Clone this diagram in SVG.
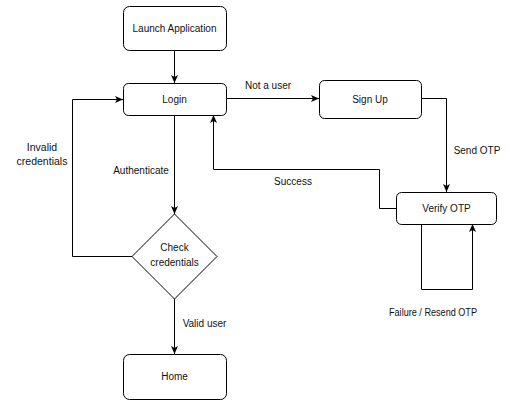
<svg xmlns="http://www.w3.org/2000/svg" width="510" height="412" viewBox="0 0 510 412">
<defs>
<style>
.node{fill:#fff;stroke:#000;stroke-width:1}
.edge{fill:none;stroke:#000;stroke-width:1}
text{font-family:"Liberation Sans",Arial,sans-serif;font-size:10px;fill:#111}
.c{text-anchor:middle}
</style>
<marker id="arr" viewBox="0 0 8 8" refX="8" refY="4" markerWidth="8" markerHeight="8" markerUnits="userSpaceOnUse" orient="auto">
<path d="M0,0.5 L8,4 L0,7.5 L2,4 Z" fill="#000"/>
</marker>
</defs>
<rect width="510" height="412" fill="#fff"/>
<g id="connectors">
<path class="edge" d="M174.5 50 V83" marker-end="url(#arr)"/>
<path class="edge" d="M226 98.5 H319" marker-end="url(#arr)"/>
<path class="edge" d="M421 98.5 H446.5 V192" marker-end="url(#arr)"/>
<path class="edge" d="M396 208.5 H379.5 V169.5 H213.5 V115" marker-end="url(#arr)"/>
<path class="edge" d="M421.5 224 V289.5 H472.5 V224" marker-end="url(#arr)"/>
<path class="edge" d="M174.5 115 V214" marker-end="url(#arr)"/>
<path class="edge" d="M133 256.5 H72.5 V99.5 H123" marker-end="url(#arr)"/>
<path class="edge" d="M174.5 299 V354" marker-end="url(#arr)"/>
<text class="c" x="268" y="88.5">Not a user</text>
<text class="c" x="477" y="153.5">Send OTP</text>
<text class="c" x="293" y="184.5">Success</text>
<text class="c" x="141" y="173.5">Authenticate</text>
<text class="c" x="42" y="150.5" style="font-size:10.5px">Invalid</text>
<text class="c" x="42" y="164.5" style="font-size:10.5px">credentials</text>
<text class="c" x="204.5" y="326.5">Valid user</text>
<text class="c" x="433" y="316" textLength="88" lengthAdjust="spacingAndGlyphs">Failure / Resend OTP</text>
</g>
<g id="launch">
<rect class="node" x="123.5" y="6.5" width="103" height="44" rx="6"/>
<text class="c" x="174.5" y="31.5">Launch Application</text>
</g>
<g id="login">
<rect class="node" x="123.5" y="83.5" width="103" height="32" rx="5"/>
<text class="c" x="174.5" y="102.5">Login</text>
</g>
<g id="signup">
<rect class="node" x="319.5" y="80.5" width="102" height="38" rx="5"/>
<text class="c" x="370" y="102.5">Sign Up</text>
</g>
<g id="verify">
<rect class="node" x="396.5" y="192.5" width="100" height="32" rx="5"/>
<text class="c" x="446.5" y="211.5">Verify OTP</text>
</g>
<g id="check">
<path class="node" d="M174.5 214 L217 256.5 L174.5 299 L132 256.5 Z"/>
<text class="c" x="174.5" y="250.5">Check</text>
<text class="c" x="174.5" y="265.5">credentials</text>
</g>
<g id="home">
<rect class="node" x="123.5" y="354.5" width="103" height="45" rx="6"/>
<text class="c" x="174.5" y="380">Home</text>
</g>
</svg>
